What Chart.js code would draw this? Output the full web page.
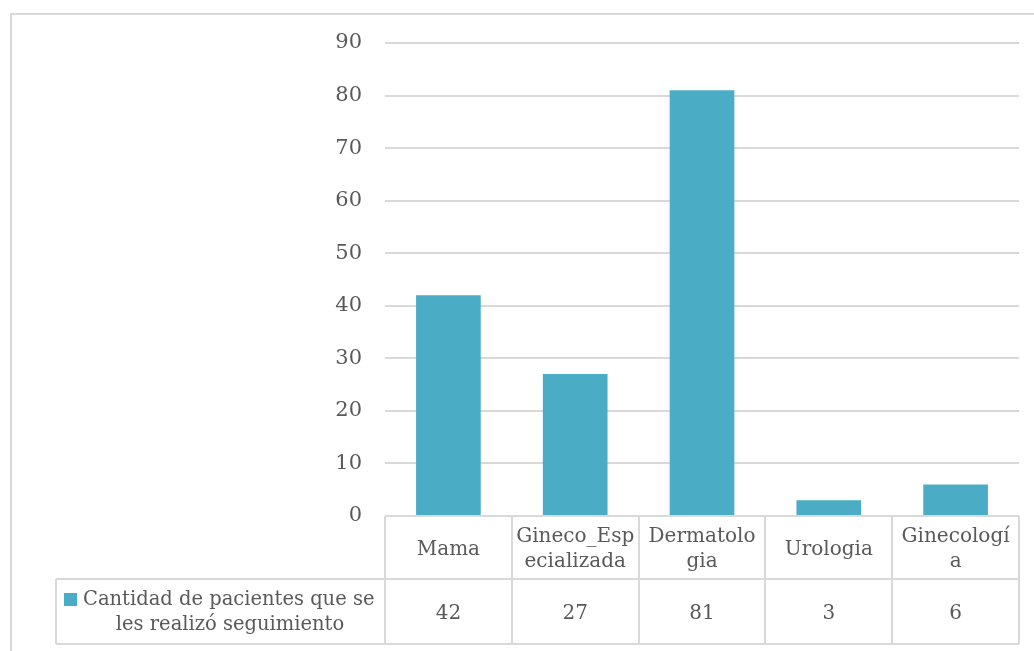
<!DOCTYPE html>
<html>
<head>
<meta charset="utf-8">
<script src="https://cdn.jsdelivr.net/npm/chart.js@4"></script>
<style>
  html, body { margin: 0; padding: 0; background: #ffffff; }
  #wrap { position: relative; width: 1034px; height: 651px; }
</style>
</head>
<body>
<div id="wrap"><canvas id="chart" width="1034" height="651"></canvas></div>
<script>
// Categories (line breaks as they appear in the data table)
const categories = [
  ['Mama'],
  ['Gineco_Esp', 'ecializada'],
  ['Dermatolo', 'gia'],
  ['Urologia'],
  ['Ginecologí', 'a']
];
// Series name (two lines in the table's legend cell)
const seriesName = ['Cantidad de pacientes que se', 'les realizó seguimiento'];
// Series values
const seriesValues = [42, 27, 81, 3, 6];
// Value axis ticks
const yTickValues = [0, 10, 20, 30, 40, 50, 60, 70, 80, 90];

const BAR_COLOR = '#4BACC6';
const GRID_COLOR = '#D9D9D9';
const TEXT_COLOR = '#595959';
const FONT_FAMILY = '"DejaVu Serif", serif';
const FONT_SIZE = 20;

// Draws the outer frame and the data table under the plot area
const dataTablePlugin = {
  id: 'dataTable',
  beforeDraw(chart) {
    const ctx = chart.ctx;
    ctx.save();
    ctx.strokeStyle = GRID_COLOR;
    ctx.lineWidth = 2;
    ctx.beginPath();
    ctx.moveTo(11, chart.height);
    ctx.lineTo(11, 14);
    ctx.lineTo(chart.width, 14);
    ctx.stroke();
    ctx.restore();
  },
  afterDraw(chart) {
    const ctx = chart.ctx;
    const x = chart.scales.x;
    const area = chart.chartArea;
    const n = categories.length;
    const colW = (area.right - area.left) / n;
    const top = area.bottom;
    const mid = top + 63;
    const bottom = top + 128;
    const legendLeft = 56;

    ctx.save();
    ctx.strokeStyle = GRID_COLOR;
    ctx.lineWidth = 2;
    ctx.beginPath();
    // horizontal rules
    ctx.moveTo(area.left, top); ctx.lineTo(area.right, top);
    ctx.moveTo(legendLeft, mid); ctx.lineTo(area.right, mid);
    ctx.moveTo(legendLeft, bottom); ctx.lineTo(area.right, bottom);
    // column separators
    for (let i = 0; i <= n; i++) {
      const px = Math.round(area.left + i * colW);
      ctx.moveTo(px, top); ctx.lineTo(px, bottom);
    }
    // legend cell left edge
    ctx.moveTo(legendLeft, mid); ctx.lineTo(legendLeft, bottom);
    ctx.stroke();

    ctx.fillStyle = TEXT_COLOR;
    ctx.font = FONT_SIZE + 'px ' + FONT_FAMILY;
    ctx.textAlign = 'center';
    ctx.textBaseline = 'middle';
    const lineH = 25;

    // category labels and values
    for (let i = 0; i < n; i++) {
      const cx = x.getPixelForValue(i);
      const lines = categories[i];
      const cy = (top + mid) / 2 + 2;
      lines.forEach((t, k) => {
        ctx.fillText(t, cx, cy + (k - (lines.length - 1) / 2) * lineH);
      });
      ctx.fillText(String(seriesValues[i]), cx, (mid + bottom) / 2 + 2);
    }

    // legend cell: key + series name
    const cy = (mid + bottom) / 2 + 1;
    ctx.fillStyle = BAR_COLOR;
    ctx.fillRect(64, cy - lineH / 2 - 7, 13, 13);
    ctx.fillStyle = TEXT_COLOR;
    ctx.font = '19.5px ' + FONT_FAMILY;
    ctx.textAlign = 'left';
    ctx.fillText(seriesName[0], 83, cy - lineH / 2);
    ctx.textAlign = 'center';
    ctx.fillText(seriesName[1], 230, cy + lineH / 2);
    ctx.restore();
  }
};

new Chart(document.getElementById('chart'), {
  type: 'bar',
  data: {
    labels: categories,
    datasets: [{
      label: seriesName.join(' '),
      data: seriesValues,
      backgroundColor: BAR_COLOR,
      borderWidth: 0,
      categoryPercentage: 1.0,
      barPercentage: 0.51
    }]
  },
  options: {
    responsive: false,
    animation: false,
    layout: { padding: { top: 43, right: 15, bottom: 135, left: 0 } },
    plugins: {
      legend: { display: false },
      tooltip: { enabled: false }
    },
    scales: {
      x: {
        display: false
      },
      y: {
        min: 0,
        max: 90,
        afterBuildTicks(scale) {
          scale.ticks = yTickValues.map(v => ({ value: v }));
        },
        afterFit(scale) { scale.width = 385; },
        border: { display: false },
        grid: { color: GRID_COLOR, lineWidth: 2, drawTicks: false },
        ticks: {
          color: TEXT_COLOR,
          padding: 23,
          font: { family: FONT_FAMILY, size: 21 }
        }
      }
    }
  },
  plugins: [dataTablePlugin]
});
</script>
</body>
</html>
